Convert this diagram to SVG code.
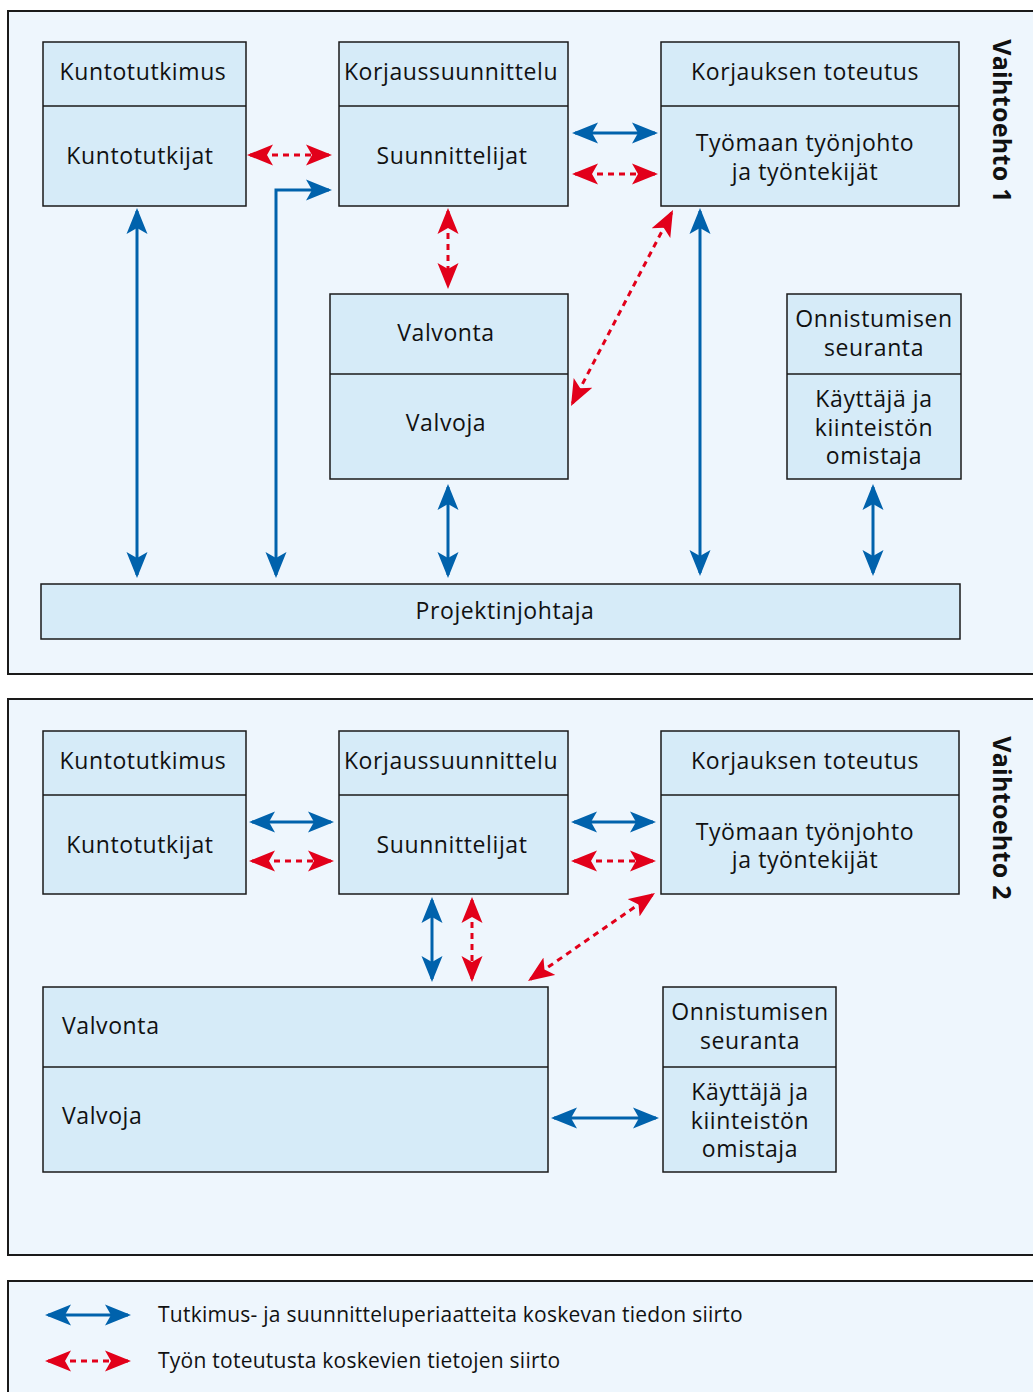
<svg xmlns="http://www.w3.org/2000/svg" width="1033" height="1392" viewBox="0 0 1033 1392">
<style>
.panel{fill:#EEF6FD;stroke:#1a1a1a;stroke-width:2}
.box{fill:#D6EBF8;stroke:#1a1a1a;stroke-width:1.5}
.div{stroke:#1a1a1a;stroke-width:1.5}
text{font-family:"Open Sans","Noto Sans","Liberation Sans",sans-serif;font-size:23px;letter-spacing:0.6px;fill:#111;dominant-baseline:central}
.c{text-anchor:middle}
.side{font-weight:bold;font-size:25px;letter-spacing:0.3px;text-anchor:middle}
.leg{font-size:21px;letter-spacing:0.25px}
.blue{fill:none;stroke:#0062AC;stroke-width:3}
.red{fill:none;stroke:#E2001A;stroke-width:3;stroke-dasharray:6 5}
</style>
<defs>
<marker id="hb" viewBox="0 -11 26 22" refX="23" refY="0" markerWidth="26" markerHeight="22" markerUnits="userSpaceOnUse" orient="auto-start-reverse">
<path d="M0,-10.5 L26,0 L0,10.5 L6,0 z" fill="#0062AC"/>
</marker>
<marker id="hr" viewBox="0 -11 26 22" refX="23" refY="0" markerWidth="26" markerHeight="22" markerUnits="userSpaceOnUse" orient="auto-start-reverse">
<path d="M0,-10.5 L26,0 L0,10.5 L6,0 z" fill="#E2001A"/>
</marker>
</defs>

<rect class="panel" x="8" y="11" width="1035" height="663"/>
<rect class="panel" x="8" y="699" width="1035" height="556"/>
<rect class="panel" x="8" y="1281" width="1035" height="130"/>

<!-- Panel 1 nodes -->
<g id="p1-kuntotutkimus">
<rect class="box" x="43" y="42" width="203" height="164"/>
<line class="div" x1="43" y1="106" x2="246" y2="106"/>
<text class="c" x="143" y="71">Kuntotutkimus</text>
<text class="c" x="140" y="155">Kuntotutkijat</text>
</g>
<g id="p1-korjaussuunnittelu">
<rect class="box" x="339" y="42" width="229" height="164"/>
<line class="div" x1="339" y1="106" x2="568" y2="106"/>
<text class="c" x="451" y="71">Korjaussuunnittelu</text>
<text class="c" x="452" y="155">Suunnittelijat</text>
</g>
<g id="p1-korjauksen-toteutus">
<rect class="box" x="661" y="42" width="298" height="164"/>
<line class="div" x1="661" y1="106" x2="959" y2="106"/>
<text class="c" x="805" y="71">Korjauksen toteutus</text>
<text class="c" x="805" y="142">Työmaan työnjohto</text>
<text class="c" x="805" y="171">ja työntekijät</text>
</g>
<g id="p1-valvonta">
<rect class="box" x="330" y="294" width="238" height="185"/>
<line class="div" x1="330" y1="374" x2="568" y2="374"/>
<text class="c" x="446" y="332">Valvonta</text>
<text class="c" x="446" y="422">Valvoja</text>
</g>
<g id="p1-onnistumisen-seuranta">
<rect class="box" x="787" y="294" width="174" height="185"/>
<line class="div" x1="787" y1="374" x2="961" y2="374"/>
<text class="c" x="874" y="318">Onnistumisen</text>
<text class="c" x="874" y="347">seuranta</text>
<text class="c" x="874" y="398">Käyttäjä ja</text>
<text class="c" x="874" y="427">kiinteistön</text>
<text class="c" x="874" y="455">omistaja</text>
</g>
<g id="p1-projektinjohtaja">
<rect class="box" x="41" y="584" width="919" height="55"/>
<text class="c" x="505" y="610">Projektinjohtaja</text>
</g>
<g id="p1-label">
<text class="side" transform="translate(1003,121) rotate(90)">Vaihtoehto 1</text>
</g>

<!-- Panel 2 nodes -->
<g id="p2-kuntotutkimus">
<rect class="box" x="43" y="731" width="203" height="163"/>
<line class="div" x1="43" y1="795" x2="246" y2="795"/>
<text class="c" x="143" y="760">Kuntotutkimus</text>
<text class="c" x="140" y="844">Kuntotutkijat</text>
</g>
<g id="p2-korjaussuunnittelu">
<rect class="box" x="339" y="731" width="229" height="163"/>
<line class="div" x1="339" y1="795" x2="568" y2="795"/>
<text class="c" x="451" y="760">Korjaussuunnittelu</text>
<text class="c" x="452" y="844">Suunnittelijat</text>
</g>
<g id="p2-korjauksen-toteutus">
<rect class="box" x="661" y="731" width="298" height="163"/>
<line class="div" x1="661" y1="795" x2="959" y2="795"/>
<text class="c" x="805" y="760">Korjauksen toteutus</text>
<text class="c" x="805" y="831">Työmaan työnjohto</text>
<text class="c" x="805" y="859">ja työntekijät</text>
</g>
<g id="p2-valvonta">
<rect class="box" x="43" y="987" width="505" height="185"/>
<line class="div" x1="43" y1="1067" x2="548" y2="1067"/>
<text x="62" y="1025">Valvonta</text>
<text x="62" y="1115">Valvoja</text>
</g>
<g id="p2-onnistumisen-seuranta">
<rect class="box" x="663" y="987" width="173" height="185"/>
<line class="div" x1="663" y1="1067" x2="836" y2="1067"/>
<text class="c" x="750" y="1011">Onnistumisen</text>
<text class="c" x="750" y="1040">seuranta</text>
<text class="c" x="750" y="1091">Käyttäjä ja</text>
<text class="c" x="750" y="1120">kiinteistön</text>
<text class="c" x="750" y="1148">omistaja</text>
</g>
<g id="p2-label">
<text class="side" transform="translate(1003,818) rotate(90)">Vaihtoehto 2</text>
</g>

<!-- Connectors -->
<g id="connectors">
<!-- panel 1 -->
<line class="red" x1="250" y1="155" x2="329" y2="155" marker-start="url(#hr)" marker-end="url(#hr)"/>
<polyline class="blue" points="276,575 276,190 329,190" marker-start="url(#hb)" marker-end="url(#hb)"/>
<line class="blue" x1="575" y1="133" x2="655" y2="133" marker-start="url(#hb)" marker-end="url(#hb)"/>
<line class="red" x1="575" y1="174" x2="655" y2="174" marker-start="url(#hr)" marker-end="url(#hr)"/>
<line class="red" x1="448" y1="211" x2="448" y2="286" marker-start="url(#hr)" marker-end="url(#hr)"/>
<line class="red" x1="671.6" y1="212.7" x2="572.4" y2="403.3" marker-start="url(#hr)" marker-end="url(#hr)"/>
<line class="blue" x1="137" y1="211" x2="137" y2="575" marker-start="url(#hb)" marker-end="url(#hb)"/>
<line class="blue" x1="700" y1="211" x2="700" y2="573" marker-start="url(#hb)" marker-end="url(#hb)"/>
<line class="blue" x1="448" y1="487" x2="448" y2="575" marker-start="url(#hb)" marker-end="url(#hb)"/>
<line class="blue" x1="873" y1="487" x2="873" y2="573" marker-start="url(#hb)" marker-end="url(#hb)"/>
<!-- panel 2 -->
<line class="blue" x1="252" y1="822" x2="331" y2="822" marker-start="url(#hb)" marker-end="url(#hb)"/>
<line class="red" x1="252" y1="861" x2="331" y2="861" marker-start="url(#hr)" marker-end="url(#hr)"/>
<line class="blue" x1="574" y1="822" x2="653" y2="822" marker-start="url(#hb)" marker-end="url(#hb)"/>
<line class="red" x1="574" y1="861" x2="653" y2="861" marker-start="url(#hr)" marker-end="url(#hr)"/>
<line class="blue" x1="432" y1="900" x2="432" y2="979" marker-start="url(#hb)" marker-end="url(#hb)"/>
<line class="red" x1="472" y1="900" x2="472" y2="979" marker-start="url(#hr)" marker-end="url(#hr)"/>
<line class="red" x1="652.5" y1="894.7" x2="530.5" y2="979.3" marker-start="url(#hr)" marker-end="url(#hr)"/>
<line class="blue" x1="554" y1="1118" x2="656" y2="1118" marker-start="url(#hb)" marker-end="url(#hb)"/>
</g>

<!-- Legend -->
<g id="legend">
<line class="blue" x1="48" y1="1315" x2="128" y2="1315" marker-start="url(#hb)" marker-end="url(#hb)"/>
<line class="red" x1="48" y1="1361" x2="128" y2="1361" marker-start="url(#hr)" marker-end="url(#hr)"/>
<text class="leg" x="158" y="1314">Tutkimus- ja suunnitteluperiaatteita koskevan tiedon siirto</text>
<text class="leg" x="158" y="1360">Työn toteutusta koskevien tietojen siirto</text>
</g>
</svg>
